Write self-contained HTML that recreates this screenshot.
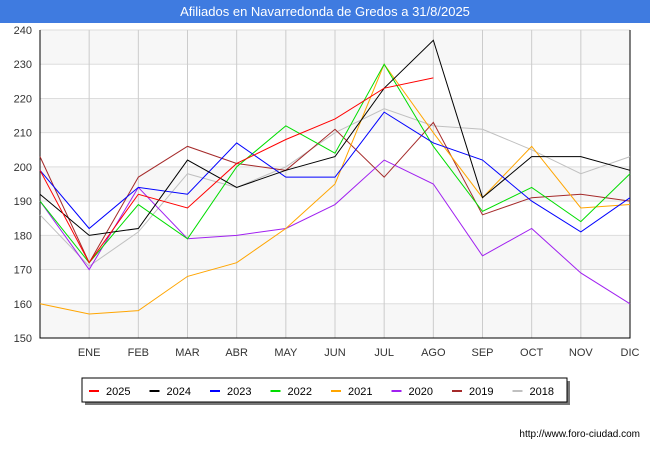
<!DOCTYPE html>
<html><head><meta charset="utf-8"><style>
body{margin:0;width:650px;height:450px;background:#fff;font-family:"Liberation Sans",sans-serif;overflow:hidden}
#title{position:absolute;left:0;top:0;width:650px;height:23px;background:#3f7be0;color:#fff;font-size:13px;text-align:center;line-height:23px}
</style></head><body>
<div id="title">Afiliados en Navarredonda de Gredos a 31/8/2025</div>
<svg id="chart" width="650" height="450" style="position:absolute;left:0;top:0"></svg>
<script>
const months=["","ENE","FEB","MAR","ABR","MAY","JUN","JUL","AGO","SEP","OCT","NOV","DIC"];
const yTicks=[150,160,170,180,190,200,210,220,230,240];
const seriesNames=["2025","2024","2023","2022","2021","2020","2019","2018"];
const seriesColors=["#ff0000","#000000","#0000ff","#00dd00","#ffa500","#a020f0","#a52a2a","#c0c0c0"];
const s2025=[199,172,192,188,201,208,214,223,226];
const s2024=[192,180,182,202,194,199,203,223,237,191,203,203,199];
const s2023=[199,182,194,192,207,197,197,216,207,202,190,181,191];
const s2022=[190,172,189,179,200,212,204,230,206,187,194,184,198];
const s2021=[160,157,158,168,172,182,195,230,210,191,206,188,189];
const s2020=[190,170,194,179,180,182,189,202,195,174,182,169,160];
const s2019=[203,172,197,206,201,199,211,197,213,186,191,192,190];
const s2018=[186,171,181,198,194,200,210,217,212,211,205,198,203];
const allSeries=[s2025,s2024,s2023,s2022,s2021,s2020,s2019,s2018];
const L=40,R=630,T=30,B=338,ymin=150,ymax=240;
const xs=i=>L+i*(R-L)/12;
const ys=v=>B-(v-ymin)*(B-T)/(ymax-ymin);
const svg=document.getElementById('chart');const NS="http://www.w3.org/2000/svg";
function mk(t,a){const e=document.createElementNS(NS,t);for(const k in a)e.setAttribute(k,a[k]);svg.appendChild(e);return e;}
for(let i=0;i<yTicks.length-1;i++){if(i%2==0){const b=mk('rect',{x:L,y:ys(yTicks[i+1]),width:R-L,height:ys(yTicks[i])-ys(yTicks[i+1]),fill:'#f7f7f7'});}}
yTicks.forEach(v=>{const l=mk('line',{x1:L,x2:R,y1:ys(v),y2:ys(v),stroke:'#dddddd'});
const t=mk('text',{x:L-8,y:ys(v)+4,'text-anchor':'end','font-size':11,fill:'#333'});t.textContent=v;});
months.forEach((m,i)=>{if(i>0){const l=mk('line',{x1:xs(i),x2:xs(i),y1:T,y2:B,stroke:'#cccccc'});
const t=mk('text',{x:xs(i),y:356,'text-anchor':'middle','font-size':11,fill:'#333'});t.textContent=m;}});
const ax=mk('path',{d:`M${L} ${T}V${B}H${R}V${T}`,fill:'none',stroke:'#000'});
for(let s=allSeries.length-1;s>=0;s--){const d=allSeries[s].map((v,i)=>(i?'L':'M')+xs(i)+' '+ys(v)).join('');
const p=mk('path',{d:d,fill:'none',stroke:seriesColors[s],'stroke-width':1});}
const sh=mk('rect',{x:85,y:381,width:485,height:24,fill:'#777'});
const lb=mk('rect',{x:82,y:378,width:485,height:24,fill:'#fff',stroke:'#000'});
seriesNames.forEach((n,i)=>{const x=89+i*60.5;const l=mk('line',{x1:x,x2:x+10,y1:391,y2:391,stroke:seriesColors[i],'stroke-width':2});
const t=mk('text',{x:x+17,y:395,'font-size':11,fill:'#000'});t.textContent=n;});
const u=mk('text',{x:640,y:437,'text-anchor':'end','font-size':10,fill:'#000'});u.textContent='http://www.foro-ciudad.com';
</script>
</body></html>
